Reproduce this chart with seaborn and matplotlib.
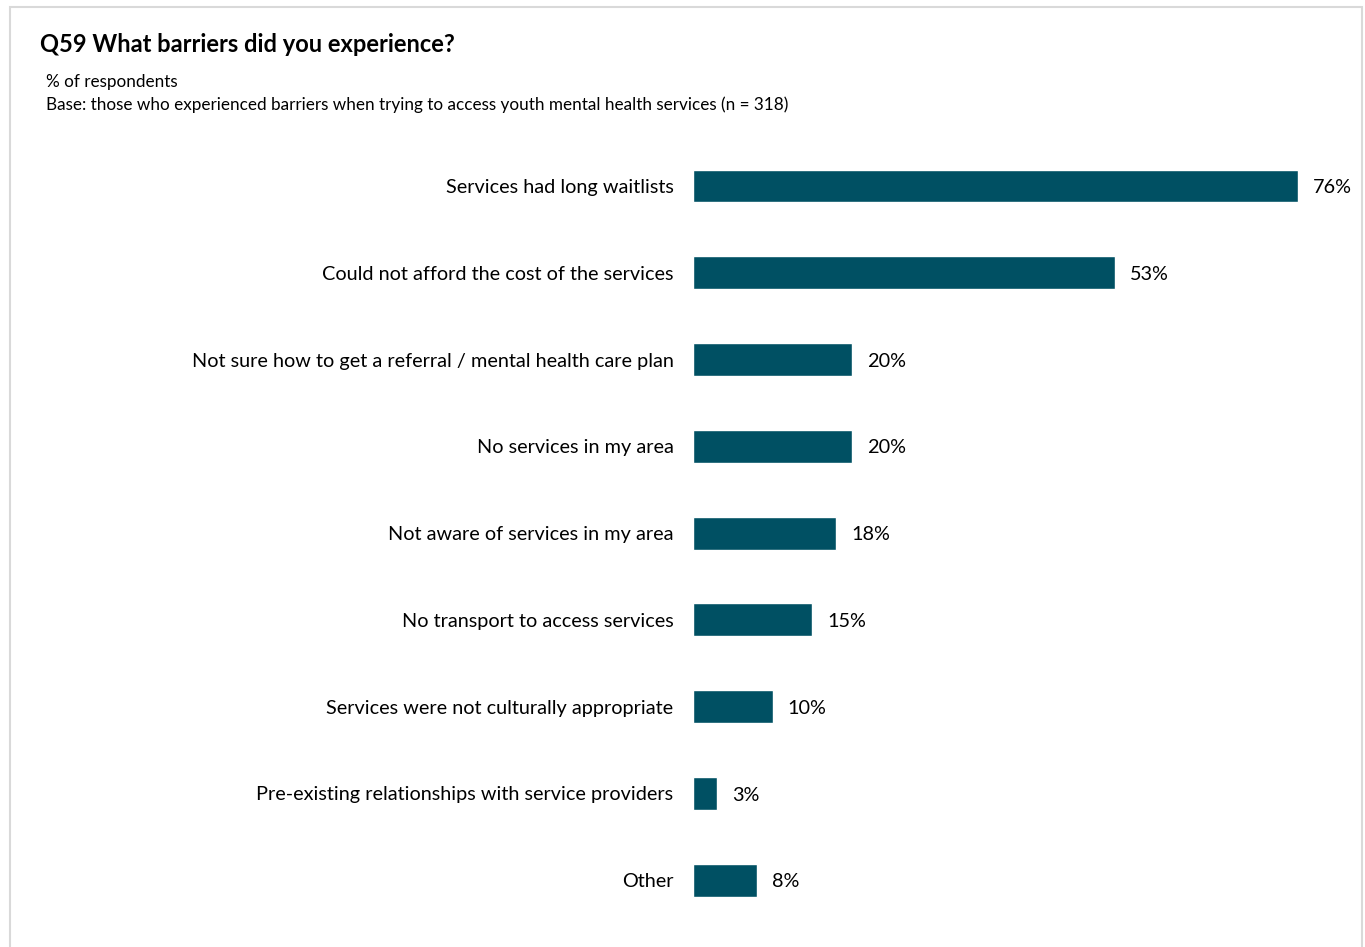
import pandas as pd
import matplotlib.pyplot as plt
import seaborn as sns
from matplotlib.patches import Rectangle

# Chart data
barriers = [
    'Services had long waitlists',
    'Could not afford the cost of the services',
    'Not sure how to get a referral / mental health care plan',
    'No services in my area',
    'Not aware of services in my area',
    'No transport to access services',
    'Services were not culturally appropriate',
    'Pre-existing relationships with service providers',
    'Other',
]
percent = [76, 53, 20, 20, 18, 15, 10, 3, 8]

df = pd.DataFrame({'Barrier': barriers, 'Percent': percent})

sns.set_theme(style='white')
plt.rcParams['font.family'] = ['Lato', 'DejaVu Sans']

fig = plt.figure(figsize=(13.65, 9.47), dpi=100)
ax = fig.add_axes([693 / 1365, 0.0249, 637 / 1365, 0.8245])

bar_color = '#005063'
sns.barplot(data=df, x='Percent', y='Barrier', color=bar_color, width=0.38,
            saturation=1, ax=ax)

ax.set_xlim(0, 80)
ax.set_xlabel('')
ax.set_ylabel('')
ax.set_xticks([])
ax.tick_params(axis='y', length=0, pad=14, labelsize=14.3, labelcolor='black')
for side in ['top', 'right', 'bottom', 'left']:
    ax.spines[side].set_visible(False)

# Value labels
for i, v in enumerate(percent):
    ax.text(v + 1.9, i + 0.02, f'{v}%', va='center', ha='left', fontsize=14.3, color='black')

# Title and subtitle
fig.text(40 / 1365, 1 - 45 / 947, 'Q59 What barriers did you experience?',
         fontsize=17, fontweight='bold', va='center', ha='left', color='black')
fig.text(46 / 1365, 1 - 82 / 947, '% of respondents',
         fontsize=12.3, va='center', ha='left', color='black')
fig.text(46 / 1365, 1 - 105 / 947,
         'Base: those who experienced barriers when trying to access youth mental health services (n = 318)',
         fontsize=12.3, va='center', ha='left', color='black')

# Light frame around the chart
fig.patches.append(Rectangle((10 / 1365, -0.01), 1352 / 1365, 1 - 7 / 947 + 0.01,
                             transform=fig.transFigure, fill=False,
                             edgecolor='#d9d9d9', linewidth=1.5))

fig.savefig('out.png', dpi=100)
